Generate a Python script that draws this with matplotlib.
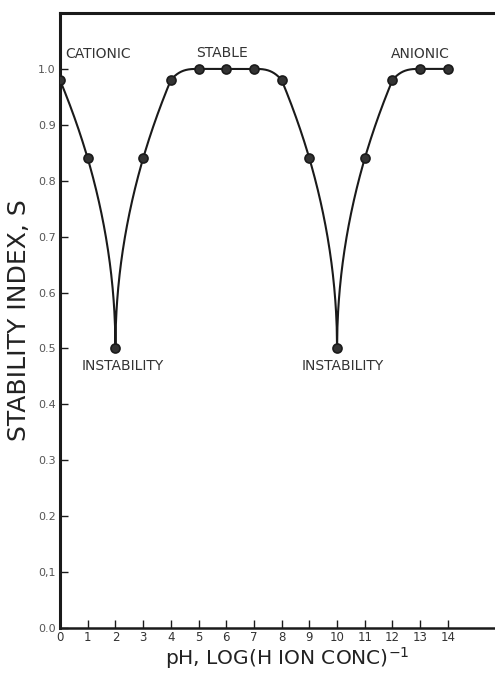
import numpy as np
import matplotlib
matplotlib.use("Agg")
import matplotlib.pyplot as plt

# ---- data ----
ph = [0, 1, 2, 3, 4, 5, 6, 7, 8, 9, 10, 11, 12, 13, 14]
stability = [0.98, 0.84, 0.50, 0.84, 0.98, 1.00, 1.00, 1.00, 0.98, 0.84, 0.50, 0.84, 0.98, 1.00, 1.00]
y_ticks = [0.0, 0.1, 0.2, 0.3, 0.4, 0.5, 0.6, 0.7, 0.8, 0.9, 1.0]
y_tick_labels = ["0.0", "0,1", "0.2", "0.3", "0.4", "0.5", "0.6", "0.7", "0.8", "0.9", "1.0"]
x_ticks = list(range(0, 15))
labels = ["CATIONIC", "STABLE", "ANIONIC", "INSTABILITY", "INSTABILITY"]
label_pos = [(0.18, 1.027), (5.85, 1.029), (13.0, 1.027), (2.27, 0.468), (10.2, 0.468)]
label_ha = ["left", "center", "center", "center", "center"]

# ---- smooth connecting line through the data points ----
x = np.asarray(ph, float)
y = np.asarray(stability, float)
n = len(x)
dips = [i for i in range(1, n - 1) if y[i] < y[i - 1] and y[i] < y[i + 1]]


def nearest_dip(i):
    return min(dips, key=lambda k: abs(x[k] - x[i]))


# a point belongs to a "dip branch" if it lies within 2 units of a dip
branch = [min(abs(x[k] - x[i]) for k in dips) <= 2 for i in range(n)]


def branch_slope(j):
    k = nearest_dip(j)
    jj = j - 1 if x[j] > x[k] else j + 1
    uj = np.sqrt(abs(x[j] - x[k]))
    ujj = np.sqrt(abs(x[jj] - x[k]))
    dSdu = (y[j] - y[jj]) / (uj - ujj)
    return dSdu / (2 * uj) * np.sign(x[j] - x[k])


xs_all, ys_all = [], []
for i in range(n - 1):
    t = np.linspace(0, 1, 80)
    h = x[i + 1] - x[i]
    xx = x[i] + t * h
    if branch[i] and branch[i + 1] and nearest_dip(i) == nearest_dip(i + 1):
        k = nearest_dip(i)
        u0 = np.sqrt(abs(x[i] - x[k]))
        u1 = np.sqrt(abs(x[i + 1] - x[k]))
        u = np.sqrt(np.abs(xx - x[k]))
        ys = y[i] + (y[i + 1] - y[i]) * (u - u0) / (u1 - u0)
    else:
        delta = (y[i + 1] - y[i]) / h
        m0 = branch_slope(i) if branch[i] else 0.0
        m1 = branch_slope(i + 1) if branch[i + 1] else 0.0
        # Fritsch-Carlson limiting keeps the segment monotone (rounded knee)
        lim = 3 * abs(delta)
        m0 = np.sign(m0) * min(abs(m0), lim)
        m1 = np.sign(m1) * min(abs(m1), lim)
        h00 = 2 * t**3 - 3 * t**2 + 1
        h10 = t**3 - 2 * t**2 + t
        h01 = -2 * t**3 + 3 * t**2
        h11 = t**3 - t**2
        ys = h00 * y[i] + h10 * h * m0 + h01 * y[i + 1] + h11 * h * m1
    xs_all.append(xx)
    ys_all.append(ys)
xs_all = np.concatenate(xs_all)
ys_all = np.concatenate(ys_all)

# ---- figure ----
fig = plt.figure(figsize=(4.95, 6.73), dpi=100)
ax = fig.add_axes([60 / 495, 45 / 673, 435 / 495, 615 / 673])

ink = "#1a1a1a"
ax.plot(xs_all, ys_all, color=ink, lw=1.5, zorder=2)
ax.plot(ph, stability, "o", color="#333333", mec=ink, mew=1.2, ms=6.5, zorder=3)

ax.set_xlim(0, 15.7)
ax.set_ylim(0, 1.1)
ax.set_xticks(x_ticks)
ax.set_xticklabels([str(v) for v in x_ticks], fontsize=8.5, color="#333333")
ax.set_yticks(y_ticks)
ax.set_yticklabels(y_tick_labels, fontsize=8, color="#555555")
ax.tick_params(axis="both", direction="in", length=6, width=1.0, color=ink, pad=3)
ax.tick_params(axis="x", pad=2)

for s in ["left", "bottom", "top"]:
    ax.spines[s].set_linewidth(2.2)
    ax.spines[s].set_color(ink)
ax.spines["bottom"].set_linewidth(1.8)
ax.spines["right"].set_visible(False)

ax.set_ylabel("STABILITY INDEX, S", fontsize=18, color="#222222", labelpad=5)
ax.set_xlabel(r"pH, LOG(H ION CONC)$^{-1}$", fontsize=14.5, color="#222222")
ax.xaxis.set_label_coords(0.522, -0.027, transform=ax.transAxes)
ax.xaxis.label.set_va("top")

for txt, (px, py), ha in zip(labels, label_pos, label_ha):
    ax.text(px, py, txt, fontsize=10, ha=ha, va="center", color="#333333")

fig.savefig("out.png", dpi=100)
